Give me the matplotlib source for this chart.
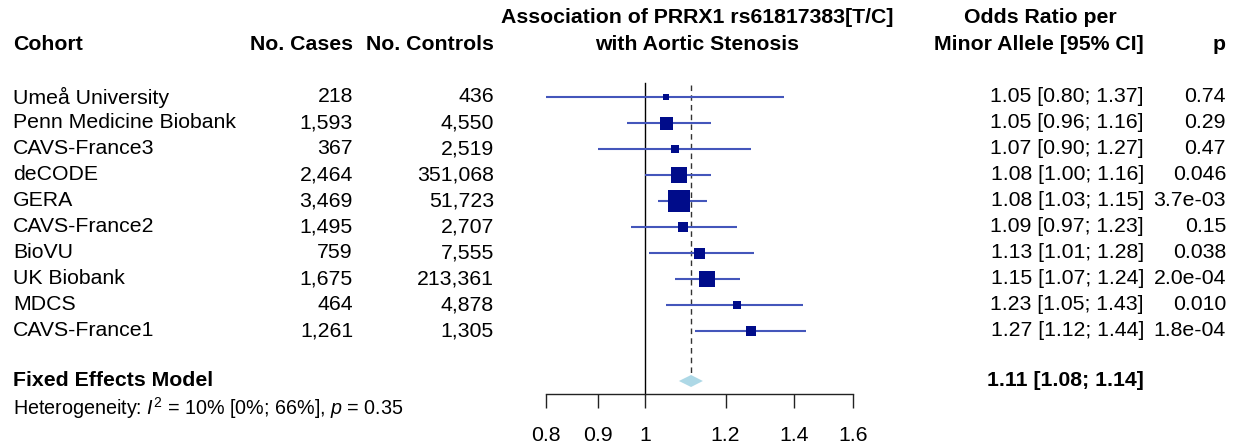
import matplotlib
matplotlib.use("Agg")
import matplotlib.pyplot as plt
import matplotlib.transforms as mtransforms
from matplotlib.patches import Polygon

plt.rcParams['font.family'] = ['Liberation Sans', 'DejaVu Sans']
plt.rcParams['mathtext.fontset'] = 'custom'
plt.rcParams['mathtext.rm'] = 'Liberation Sans'
plt.rcParams['mathtext.it'] = 'Liberation Sans:italic'
plt.rcParams['mathtext.bf'] = 'Liberation Sans:bold'

# ---------------- data ----------------
cohorts = ["Umeå University", "Penn Medicine Biobank", "CAVS-France3", "deCODE", "GERA",
           "CAVS-France2", "BioVU", "UK Biobank", "MDCS", "CAVS-France1"]
cases = ["218", "1,593", "367", "2,464", "3,469", "1,495", "759", "1,675", "464", "1,261"]
controls = ["436", "4,550", "2,519", "351,068", "51,723", "2,707", "7,555", "213,361", "4,878", "1,305"]
odds_ratio = [1.05, 1.05, 1.07, 1.08, 1.08, 1.09, 1.13, 1.15, 1.23, 1.27]
ci_low = [0.80, 0.96, 0.90, 1.00, 1.03, 0.97, 1.01, 1.07, 1.05, 1.12]
ci_high = [1.37, 1.16, 1.27, 1.16, 1.15, 1.23, 1.28, 1.24, 1.43, 1.44]
p_values = ["0.74", "0.29", "0.47", "0.046", "3.7e-03", "0.15", "0.038", "2.0e-04", "0.010", "1.8e-04"]
fixed_or, fixed_low, fixed_high = 1.11, 1.08, 1.14
x_ticks = [0.8, 0.9, 1, 1.2, 1.4, 1.6]
x_tick_labels = ["0.8", "0.9", "1", "1.2", "1.4", "1.6"]

# ---------------- style ----------------
box_px = [6, 13, 8, 16, 22, 10.5, 11, 16, 8.5, 10.5]   # square widths in pixels
W, H = 1237, 447
DPI = 100
fs = 15.3
line_col = '#4456bb'
box_col = '#000c8a'
diamond_col = '#add8e6'

fig = plt.figure(figsize=(W / DPI, H / DPI), dpi=DPI)

# pixel geometry
ax_left, ax_right = 546, 853
row0_px, row_step = 97, 26
axis_px = 394


def row_of(px):
    return (px - row0_px) / row_step


ax = fig.add_axes([ax_left / W, (H - axis_px) / H, (ax_right - ax_left) / W, axis_px / H])
ax.set_xscale('log')
ax.set_xlim(0.8, 1.6)
ax.set_ylim(row_of(axis_px), row_of(0))
ax.patch.set_visible(False)
for s in ['top', 'right', 'left']:
    ax.spines[s].set_visible(False)
ax.spines['bottom'].set_linewidth(1.0)
ax.spines['bottom'].set_color('#222222')
ax.set_yticks([])
ax.xaxis.set_minor_locator(matplotlib.ticker.NullLocator())
ax.set_xticks(x_ticks)
ax.set_xticklabels(x_tick_labels, fontsize=fs)
ax.tick_params(axis='x', direction='out', length=10, width=1.0, color='#222222', pad=13)

n = len(cohorts)
rows = list(range(n))

# reference lines
ax.plot([1, 1], [row_of(83), row_of(axis_px)], color='black', lw=1.0, clip_on=False, zorder=1)
ax.plot([fixed_or, fixed_or], [row_of(85), row_of(373)], color='#333333', lw=1.0,
        ls=(0, (4, 3)), clip_on=False, zorder=1)

# CIs and boxes
for i in rows:
    ax.plot([ci_low[i], ci_high[i]], [i, i], color=line_col, lw=1.5, solid_capstyle='butt', zorder=2)
    ax.plot([odds_ratio[i]], [i], marker='s', ms=box_px[i] * 72 / DPI, color=box_col,
            markeredgewidth=0, zorder=3)

# diamond
fe_row = row_of(381)
dh = 6 / row_step
diamond = Polygon([[fixed_low, fe_row], [fixed_or, fe_row - dh], [fixed_high, fe_row],
                   [fixed_or, fe_row + dh]], closed=True, facecolor=diamond_col,
                  edgecolor='none', zorder=3, clip_on=False)
ax.add_patch(diamond)

# text columns
tr = mtransforms.blended_transform_factory(fig.transFigure, ax.transData)


def fx(px):
    return px / W


x_name, x_cases, x_ctrl, x_or, x_p = 13, 353, 494, 1144, 1226
for i in rows:
    ax.text(fx(x_name), i, cohorts[i], transform=tr, ha='left', va='center', fontsize=fs, clip_on=False)
    ax.text(fx(x_cases), i, cases[i], transform=tr, ha='right', va='center', fontsize=fs)
    ax.text(fx(x_ctrl), i, controls[i], transform=tr, ha='right', va='center', fontsize=fs)
    ax.text(fx(x_or), i, f"{odds_ratio[i]:.2f} [{ci_low[i]:.2f}; {ci_high[i]:.2f}]",
            transform=tr, ha='right', va='center', fontsize=fs)
    ax.text(fx(x_p), i, p_values[i], transform=tr, ha='right', va='center', fontsize=fs)

# headers
h1, h2 = row_of(18), row_of(45)
ax.text(fx(x_name), h2, "Cohort", transform=tr, ha='left', va='center', fontsize=fs, weight='bold')
ax.text(fx(x_cases), h2, "No. Cases", transform=tr, ha='right', va='center', fontsize=fs, weight='bold')
ax.text(fx(x_ctrl), h2, "No. Controls", transform=tr, ha='right', va='center', fontsize=fs, weight='bold')
ax.text(fx(697), h1, "Association of PRRX1 rs61817383[T/C]", transform=tr, ha='center', va='center',
        fontsize=fs, weight='bold')
ax.text(fx(697), h2, "with Aortic Stenosis", transform=tr, ha='center', va='center',
        fontsize=fs, weight='bold')
ax.text(fx(1040), h1, "Odds Ratio per", transform=tr, ha='center', va='center', fontsize=fs, weight='bold')
ax.text(fx(x_or), h2, "Minor Allele [95% CI]", transform=tr, ha='right', va='center', fontsize=fs,
        weight='bold')
ax.text(fx(x_p), h2, "p", transform=tr, ha='right', va='center', fontsize=fs, weight='bold')

# fixed effects
ax.text(fx(x_name), fe_row, "Fixed Effects Model", transform=tr, ha='left', va='center', fontsize=fs,
        weight='bold')
ax.text(fx(x_or), fe_row, f"{fixed_or:.2f} [{fixed_low:.2f}; {fixed_high:.2f}]", transform=tr,
        ha='right', va='center', fontsize=fs, weight='bold')
ax.text(fx(x_name), row_of(408), r"Heterogeneity: $\mathit{I}^{2}$ = 10% [0%; 66%], $\mathit{p}$ = 0.35",
        transform=tr, ha='left', va='center', fontsize=fs * 0.93)

fig.savefig("out.png", dpi=DPI)
